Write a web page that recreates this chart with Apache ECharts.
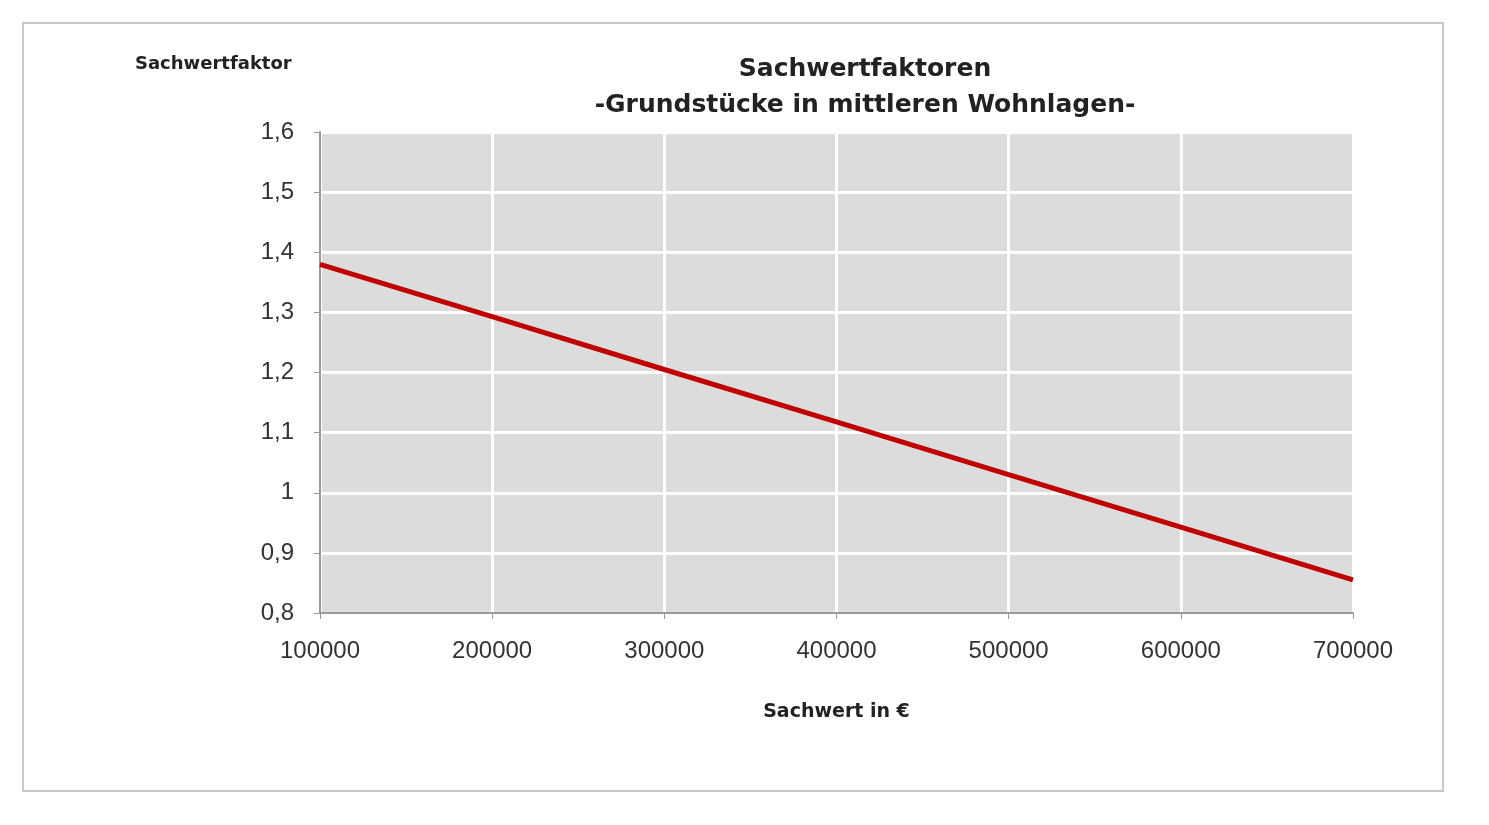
<!DOCTYPE html>
<html>
<head>
<meta charset="utf-8">
<script src="https://cdn.jsdelivr.net/npm/echarts@6/dist/echarts.min.js"></script>
<style>
html,body{margin:0;padding:0;background:#fff;}
#frame{position:absolute;left:22px;top:22px;width:1418px;height:766px;border:2px solid #c8c8c8;}
#main{position:absolute;left:0;top:0;width:1489px;height:825px;}
</style>
</head>
<body>
<div id="frame"></div>
<div id="main"></div>
<script>
var sachwert = [100000, 200000, 300000, 400000, 500000, 600000, 700000];
var faktor = [1.38, 1.293, 1.205, 1.118, 1.03, 0.943, 0.855];

var myChart = echarts.init(document.getElementById('main'));
var lineData = sachwert.map(function (x, i) { return [x, faktor[i]]; });
var option = {
    backgroundColor: 'transparent',
    title: {
        text: 'Sachwertfaktoren\n-Grundstücke in mittleren Wohnlagen-',
        left: 860,
        top: 46,
        textAlign: 'center',
        textStyle: { color: '#222', fontSize: 25, fontWeight: 'bold', fontFamily: 'DejaVu Sans', lineHeight: 36 }
    },
    graphic: [{
        type: 'text', left: 135, top: 55,
        style: { text: 'Sachwertfaktor', font: 'bold 18px "DejaVu Sans"', fill: '#222' }
    }],
    grid: { left: 320, right: 136, top: 132, bottom: 212, backgroundColor: '#dcdcdc', show: true, borderWidth: 0 },
    xAxis: {
        type: 'value', min: 100000, max: 700000, interval: 100000,
        name: 'Sachwert in €', nameLocation: 'middle', nameGap: 90,
        nameTextStyle: { fontSize: 19, fontWeight: 'bold', color: '#222', fontFamily: 'DejaVu Sans' },
        axisLine: { show: true, lineStyle: { color: '#999', width: 2 } },
        axisTick: { show: true, length: 6, lineStyle: { color: '#999' } },
        axisLabel: { fontSize: 24, color: '#333', margin: 26, fontFamily: 'Liberation Sans',
            formatter: function (v) { return String(v); } },
        splitLine: { show: true, lineStyle: { color: '#fff', width: 3 } }
    },
    yAxis: {
        type: 'value', min: 0.8, max: 1.6, interval: 0.1,
        axisLine: { show: true, lineStyle: { color: '#999', width: 2 } },
        axisTick: { show: true, length: 6, lineStyle: { color: '#999' } },
        axisLabel: {
            fontSize: 24, color: '#333', margin: 26, fontFamily: 'Liberation Sans',
            formatter: function (v) { return (Math.round(v * 10) / 10).toString().replace('.', ','); }
        },
        splitLine: { show: true, lineStyle: { color: '#fff', width: 3 } }
    },
    series: [{
        type: 'line',
        data: lineData,
        symbol: 'none',
        lineStyle: { color: '#c00000', width: 5 }
    }]
};
myChart.setOption(option);
</script>
</body>
</html>
